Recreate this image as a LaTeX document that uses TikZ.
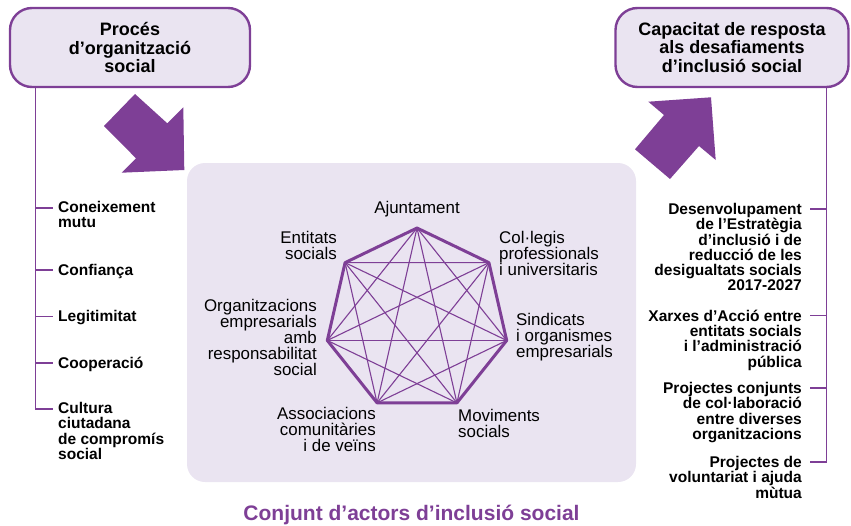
\documentclass[tikz,border=0pt]{standalone}
\usepackage{fontspec}
\setmainfont{Liberation Sans}
\usetikzlibrary{positioning}
\definecolor{lila}{RGB}{126,63,150}
\definecolor{lilaclar}{RGB}{234,228,241}

\begin{document}
\begin{tikzpicture} [x=1pt, y=-1pt, inner sep=0pt,
        title/.style={draw=lila, line width=2.4pt, fill=lilaclar, rounded corners=22pt, align=center, font=\fontsize{18}{18.4}\selectfont\bfseries},
        item/.style={font=\fontsize{15.5}{15.3}\selectfont\bfseries, execute at begin node={\rule{0pt}{12pt}}},
        actor/.style={font=\fontsize{16.9}{16}\selectfont, execute at begin node={\rule{0pt}{13pt}}},
        tie/.style={draw=lila, line width=1.2pt},
        chord/.style={draw=lila, line width=1.1pt},
        ring/.style={draw=lila, line width=3pt, line join=round}]
                \useasboundingbox (0,0) rectangle (851,525);

                % titols
                \node (Proces) [title, minimum width=240pt, minimum height=79pt] at (130,47.5) {Procés\\d’organització\\social};
                \node (Capacitat) [title, minimum width=233pt, minimum height=79pt] at (732,47.5) {Capacitat de resposta\\als desafiaments\\d’inclusió social};

                % fletxes
                \fill[lila] (104,126) -- (135,94) -- (167.3,123.3) -- (183.3,107.3) -- (184.3,170) -- (121.7,172.7) -- (136,158.3) -- cycle;
                \fill[lila] (635,149.3) -- (664,115) -- (648.3,101.7) -- (711,97.3) -- (715.7,160) -- (699,146) -- (670,179) -- cycle;

                % actors
                \node (Panel) [fill=lilaclar, rounded corners=18pt, minimum width=449pt, minimum height=319pt] at (411.5,322.5) {};
                \begin{scope}[shift={(417,320)}]
                    \foreach \k in {1,...,7}
                        \coordinate (V\k) at ({-90+360/7*(\k-1)}:92);
                \end{scope}
                \foreach \i in {1,...,6} {
                    \pgfmathtruncatemacro\n{\i+1}
                    \foreach \j in {\n,...,7}
                        \draw[chord] (V\i) -- (V\j);
                }
                \draw[ring] (V1) \foreach \k in {2,...,7} {-- (V\k)} -- cycle;

                \node (Ajuntament) [actor, anchor=north] at (417,200) {Ajuntament};
                \node (Collegis) [actor, anchor=north west, align=left] at (499,231) {Col·legis\\professionals\\i universitaris};
                \node (Sindicats) [actor, anchor=north west, align=left] at (516,313) {Sindicats\\i organismes\\empresarials};
                \node (Moviments) [actor, anchor=north west, align=left] at (458,408.7) {Moviments\\socials};
                \node (Associacions) [actor, anchor=north east, align=right] at (376,407) {Associacions\\comunitàries\\i de veïns};
                \node (Organitzacions) [actor, anchor=north east, align=right] at (317,298.7) {Organitzacions\\empresarials\\amb\\responsabilitat\\social};
                \node (Entitats) [actor, anchor=north east, align=right] at (337,231) {Entitats\\socials};

                \node (Conjunt) [below=23pt of Panel, font=\fontsize{21}{21}\selectfont\bfseries, text=lila] {Conjunt d’actors d’inclusió social};

                % llista esquerra
                \node (Coneixement) [item, anchor=north west, align=left] at (58,201) {Coneixement\\mutu};
                \node (Confianca) [item, anchor=north west] at (58,263) {Confiança};
                \node (Legitimitat) [item, anchor=north west] at (58,309.7) {Legitimitat};
                \node (Cooperacio) [item, anchor=north west] at (58,356) {Cooperació};
                \node (Cultura) [item, anchor=north west, align=left] at (58,402) {Cultura\\ciutadana\\de compromís\\social};
                \coordinate (LTop) at ([xshift=27pt]Proces.south west);
                \foreach \m in {Coneixement, Confianca, Legitimitat, Cooperacio, Cultura}
                    \draw[tie] (LTop) |- ([xshift=-5pt, yshift=-7pt]\m.north west);

                % llista dreta
                \node (Estrategia) [item, anchor=north east, align=right] at (802,203) {Desenvolupament\\de l’Estratègia\\d’inclusió i de\\reducció de les\\desigualtats socials\\2017-2027};
                \node (Xarxes) [item, anchor=north east, align=right] at (802,309.7) {Xarxes d’Acció entre\\entitats socials\\i l’administració\\pública};
                \node (Conjunts) [item, anchor=north east, align=right] at (802,382) {Projectes conjunts\\de col·laboració\\entre diverses\\organitzacions};
                \node (Voluntariat) [item, anchor=north east, align=right] at (802,456) {Projectes de\\voluntariat i ajuda\\mùtua};
                \coordinate (RTop) at ([xshift=-23.5pt]Capacitat.south east);
                \foreach \m in {Estrategia, Xarxes, Conjunts, Voluntariat}
                    \draw[tie] (RTop) |- ([xshift=8pt, yshift=-6pt]\m.north east);
            \end{tikzpicture}
\end{document}
